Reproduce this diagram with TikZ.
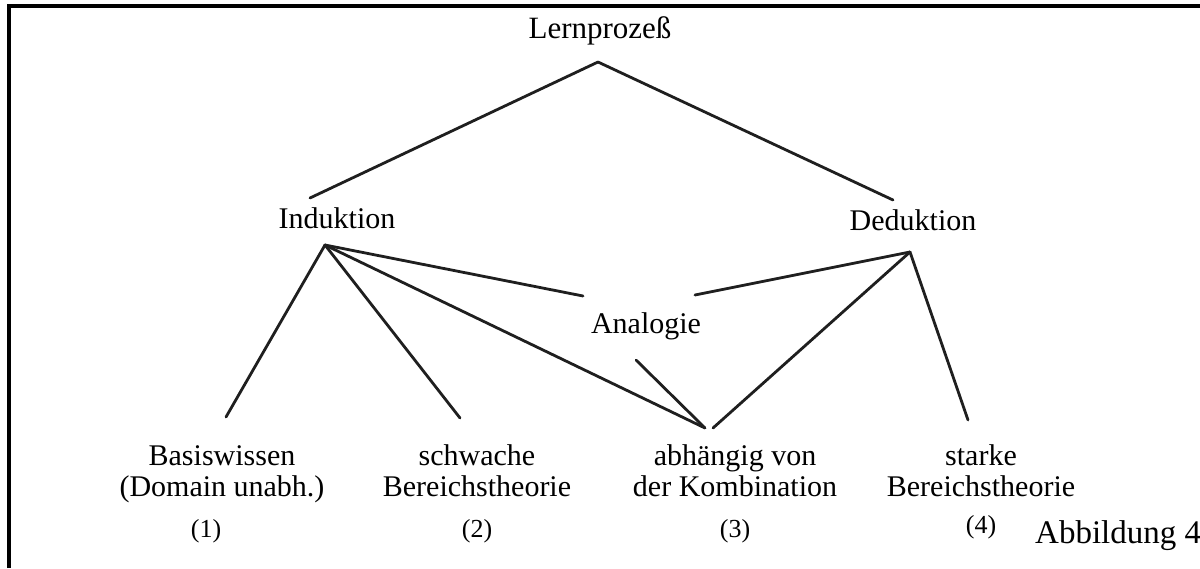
\documentclass[tikz,border=0pt]{standalone}
\usepackage{fontspec}
\setmainfont{Liberation Serif}
\begin{document}
\begin{tikzpicture}[x=1pt,y=-1pt,
  label/.style={anchor=base,inner sep=0pt,font=\fontsize{30}{31}\selectfont,align=center},
  numlabel/.style={anchor=base,inner sep=0pt,font=\fontsize{26}{26}\selectfont},
  edge/.style={line width=2.8pt,draw=black!88,line cap=round},
  frame/.style={line width=3.5pt,draw=black}]
\useasboundingbox (0,0) rectangle (1200,568);
\clip (0,0) rectangle (1200,568);

% frame (top and left rule)
\draw[frame] (9,568) -- (9,6) -- (1200,6);

% labels
\node[label,font=\fontsize{31}{31}\selectfont] (lern) at (600,38) {Lernprozeß};
\node[label] (ind)  at (337,228) {Induktion};
\node[label] (ded)  at (913,230) {Deduktion};
\node[label] (ana)  at (646,333) {Analogie};
% two-line labels: the base anchor sits on the last line
\node[label] (basis)   at (222,496) {Basiswissen\\(Domain unabh.)};
\node[label] (schwach) at (477,496) {schwache\\Bereichstheorie};
\node[label] (komb)    at (735,496) {abhängig von\\der Kombination};
\node[label] (stark)   at (981,496) {starke\\Bereichstheorie};
\node[numlabel] (n1) at (206,537) {(1)};
\node[numlabel] (n2) at (477,537) {(2)};
\node[numlabel] (n3) at (735,537) {(3)};
\node[numlabel] (n4) at (981,533) {(4)};
\node[anchor=base west,inner sep=0pt,font=\fontsize{33}{33}\selectfont] (abb) at (1035,543) {Abbildung 4};

% connector end points
\coordinate (lern-foot) at (598,62);
\coordinate (ind-head)  at (310,198);
\coordinate (ded-head)  at (893,200);
\coordinate (ind-foot)  at (325,245);
\coordinate (ded-foot)  at (910,252);
\coordinate (ana-left)  at (583,296);
\coordinate (ana-right) at (695,295);
\coordinate (ana-foot)  at (636,360);
\coordinate (basis-head)   at (226,417);
\coordinate (schwach-head) at (460,418);
\coordinate (komb-head)    at (705,428);
\coordinate (komb-head2)   at (713,428);
\coordinate (stark-head)   at (968,420);

% tree connectors
\draw[edge] (lern-foot) -- (ind-head);
\draw[edge] (lern-foot) -- (ded-head);
\draw[edge] (ind-foot) -- (basis-head);
\draw[edge] (ind-foot) -- (schwach-head);
\draw[edge] (ind-foot) -- (ana-left);
\draw[edge] (ind-foot) -- (komb-head);
\draw[edge] (ana-foot) -- (komb-head);
\draw[edge] (ded-foot) -- (ana-right);
\draw[edge] (ded-foot) -- (komb-head2);
\draw[edge] (ded-foot) -- (stark-head);
\end{tikzpicture}
\end{document}
